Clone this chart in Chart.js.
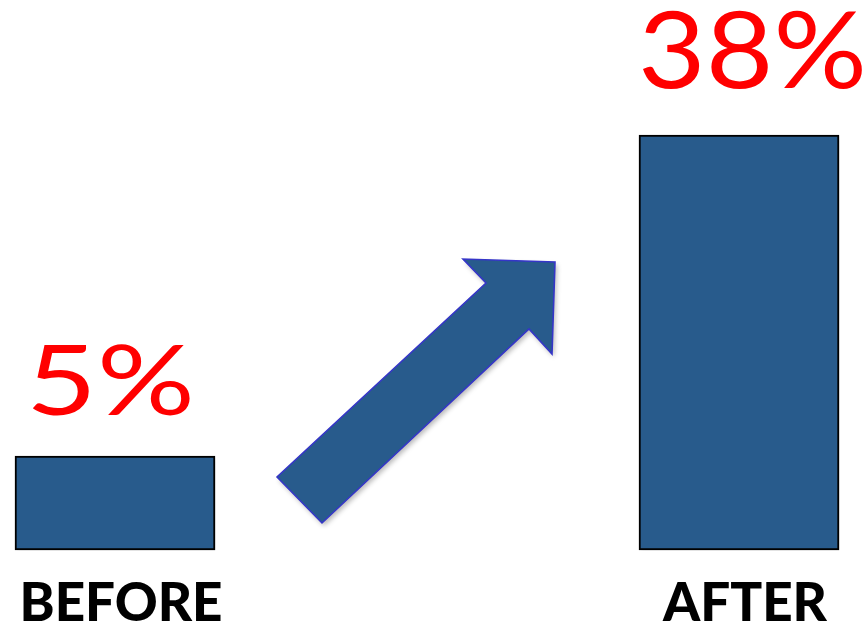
<!DOCTYPE html>
<html>
<head>
<meta charset="utf-8">
<script src="https://cdn.jsdelivr.net/npm/chart.js@4/dist/chart.umd.min.js"></script>
<style>
  html, body { margin: 0; padding: 0; background: #ffffff; }
  #wrap { width: 866px; height: 629px; }
</style>
</head>
<body>
<div id="wrap"><canvas id="c" width="866" height="629"></canvas></div>
<script>
// Share of respondents before and after
const categories = ['BEFORE', 'AFTER'];
const shares = [5, 38];
const shareLabels = ['5%', '38%'];

// Value axis range; bars rise from the common baseline below zero
const yMin = -4.66;
const yMax = 51.9;

const BAR_FILL = '#285b8c';
const LABEL_RED = '#ff0000';

// Value labels above each bar
const valueLabels = {
  id: 'valueLabels',
  afterDatasetsDraw(chart) {
    const ctx = chart.ctx;
    const meta = chart.getDatasetMeta(0);
    const sizes = [97, 107];
    const stretch = [1.26, 1.09];
    const dx = [-4.5, 13.5];
    const gap = [41, 47];
    ctx.fillStyle = LABEL_RED;
    ctx.textAlign = 'center';
    ctx.textBaseline = 'alphabetic';
    meta.data.forEach((bar, i) => {
      ctx.save();
      ctx.font = sizes[i] + 'px Lato';
      ctx.translate(bar.x + dx[i], bar.y - gap[i]);
      ctx.scale(stretch[i], 1);
      ctx.fillText(shareLabels[i], 0, 0);
      ctx.restore();
    });
  }
};

// Rising arrow between the two bars
const riseArrow = {
  id: 'riseArrow',
  afterDatasetsDraw(chart) {
    const ctx = chart.ctx;
    const a = chart.chartArea;
    const ox = a.left, oy = a.bottom;
    const pts = [
      [162, -73], [207, -27], [414, -221], [437, -196],
      [440, -288], [348, -291], [371, -267]
    ];
    ctx.save();
    ctx.shadowColor = 'rgba(0,0,0,0.28)';
    ctx.shadowBlur = 5;
    ctx.shadowOffsetX = 2;
    ctx.shadowOffsetY = 3;
    ctx.beginPath();
    pts.forEach(([x, y], i) => {
      if (i === 0) ctx.moveTo(ox + x, oy + y); else ctx.lineTo(ox + x, oy + y);
    });
    ctx.closePath();
    ctx.fillStyle = BAR_FILL;
    ctx.fill();
    ctx.shadowColor = 'transparent';
    ctx.lineWidth = 1.6;
    ctx.strokeStyle = '#3535c8';
    ctx.lineJoin = 'miter';
    ctx.stroke();
    ctx.restore();
  }
};

// Soft drop shadow under the bars
const barShadow = {
  id: 'barShadow',
  beforeDatasetsDraw(chart) {
    const ctx = chart.ctx;
    ctx.save();
    ctx.shadowColor = 'rgba(0,0,0,0.3)';
    ctx.shadowBlur = 5;
    ctx.shadowOffsetX = 2;
    ctx.shadowOffsetY = 3;
  },
  afterDatasetsDraw(chart) {
    chart.ctx.restore();
  }
};

new Chart(document.getElementById('c'), {
  type: 'bar',
  data: {
    labels: categories,
    datasets: [{
      data: shares,
      base: yMin,
      backgroundColor: BAR_FILL,
      borderColor: '#000000',
      borderWidth: 2,
      borderSkipped: false,
      barThickness: 200,
      clip: false
    }]
  },
  options: {
    responsive: false,
    animation: false,
    devicePixelRatio: 1,
    layout: { padding: { left: 115, right: 127, top: 0, bottom: 0 } },
    plugins: {
      legend: { display: false },
      tooltip: { enabled: false }
    },
    scales: {
      x: {
        offset: false,
        grid: { display: false },
        border: { display: false },
        ticks: {
          color: '#000000',
          padding: 14,
          labelOffset: 6,
          font: { family: 'Lato', size: 53, weight: 900 }
        },
        afterFit(scale) {
          scale.height = 79;
          scale.paddingLeft = 0;
          scale.paddingRight = 0;
        }
      },
      y: {
        display: false,
        min: yMin,
        max: yMax
      }
    }
  },
  plugins: [barShadow, riseArrow, valueLabels]
});
</script>
</body>
</html>
